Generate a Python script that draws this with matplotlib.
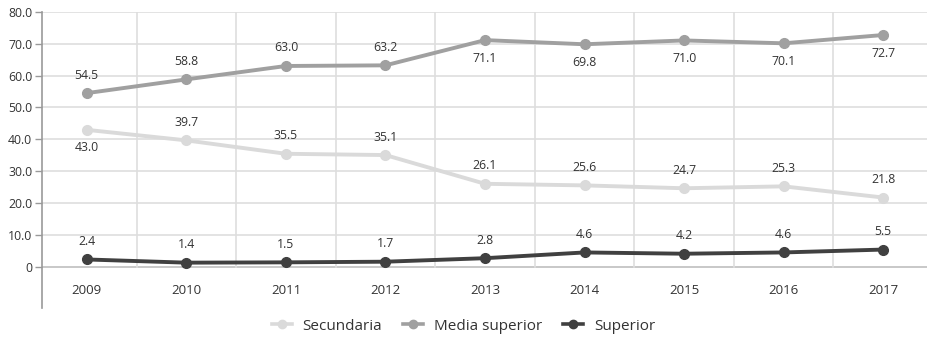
import matplotlib
matplotlib.use("Agg")
import matplotlib.pyplot as plt
from matplotlib.lines import Line2D

years = ["2009", "2010", "2011", "2012", "2013", "2014", "2015", "2016", "2017"]
secundaria = [43.0, 39.7, 35.5, 35.1, 26.1, 25.6, 24.7, 25.3, 21.8]
media_superior = [54.5, 58.8, 63.0, 63.2, 71.1, 69.8, 71.0, 70.1, 72.7]
superior = [2.4, 1.4, 1.5, 1.7, 2.8, 4.6, 4.2, 4.6, 5.5]

# which labels go under the point instead of over it
sec_below = [True, False, False, False, False, False, False, False, False]
med_below = [False, False, False, False, True, True, True, True, True]
sup_below = [False] * 9

plt.rcParams["font.family"] = ["Open Sans", "DejaVu Sans"]

fig = plt.figure(figsize=(9.27, 3.43), dpi=100)
ax = fig.add_axes([42 / 927, 1 - 308 / 343, 1 - 42 / 927, (308 - 11.7) / 343])

x = list(range(len(years)))
ax.set_xlim(-0.45, 8.44)
ax.set_ylim(-12.8, 80)

# grid
for v in range(10, 81, 10):
    ax.axhline(v, color="#dedede", lw=1.2, zorder=0)
ax.axhline(0, color="#c8c8c8", lw=1.4, zorder=0)
for b in range(len(years) - 1):
    ax.plot([b + 0.5, b + 0.5], [0, 80], color="#dedede", lw=1.2, zorder=0)

series = [
    ("Secundaria", secundaria, "#dadada", sec_below),
    ("Media superior", media_superior, "#a0a0a0", med_below),
    ("Superior", superior, "#404040", sup_below),
]
handles = []
for name, vals, col, below in series:
    ax.plot(x, vals, color=col, lw=2.8, marker="o", ms=7, zorder=3,
            solid_capstyle="round")
    for xi, v, b in zip(x, vals, below):
        off = -13 if b else 13
        ax.annotate(f"{v:.1f}", (xi, v), xytext=(0, off), textcoords="offset points",
                    ha="center", va="center", fontsize=8.8, color="#333333")
    handles.append(Line2D([0], [0], color=col, lw=2.6, marker="o", ms=6, label=name))

ax.set_yticks(range(0, 81, 10))
ax.set_yticklabels(["0"] + [f"{v:.1f}" for v in range(10, 81, 10)], fontsize=8.8,
                   color="#333333")
ax.tick_params(axis="y", length=5, width=1, color="#999999", pad=2)
ax.tick_params(axis="x", length=0)
ax.set_xticks([])
for xi, yr in zip(x, years):
    ax.text(xi, -7.2, yr, ha="center", va="center", fontsize=9.5, color="#333333")

for s in ["top", "right", "bottom"]:
    ax.spines[s].set_visible(False)
ax.spines["left"].set_color("#999999")
ax.spines["left"].set_linewidth(1.2)

fig.legend(handles=handles, loc="center", bbox_to_anchor=(0.5, 1 - 326 / 343), ncol=3,
           frameon=False, fontsize=11, handlelength=1.3, columnspacing=1.4,
           handletextpad=0.7, labelcolor="#333333")

fig.savefig("out.png", dpi=100)
